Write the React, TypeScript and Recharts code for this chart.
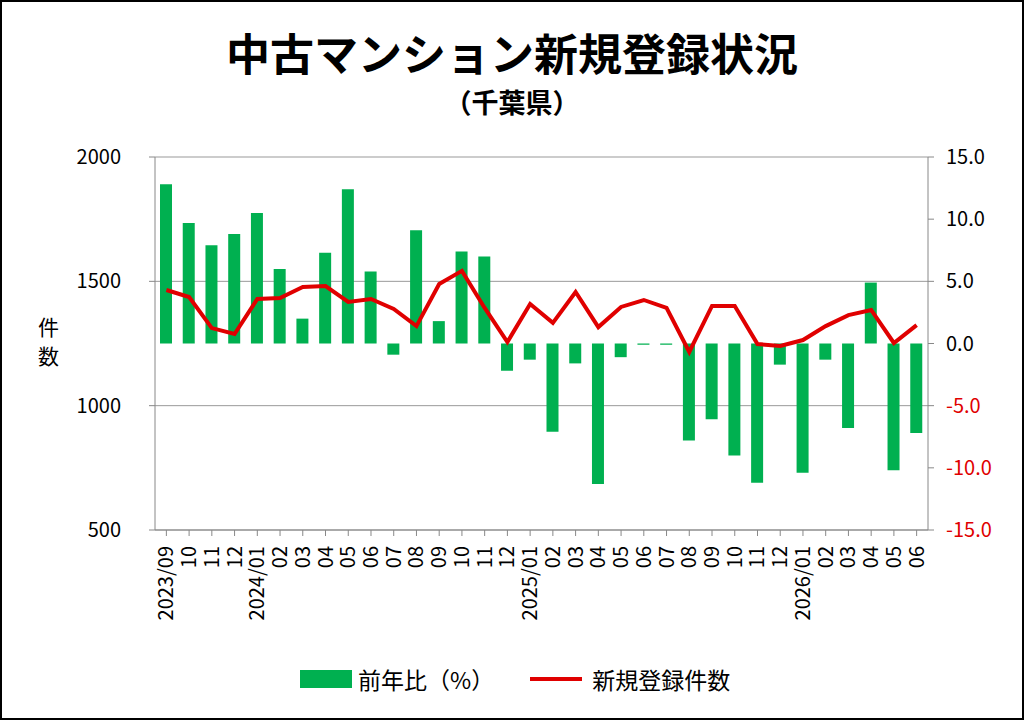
import React from 'react';
import { ComposedChart, Bar, Line, XAxis, YAxis, CartesianGrid } from 'recharts';

const months = ['2023/09','10','11','12','2024/01','02','03','04','05','06','07','08','09','10','11','12','2025/01','02','03','04','05','06','07','08','09','10','11','12','2026/01','02','03','04','05','06'];
const yoy = [12.8,9.7,7.9,8.8,10.5,6.0,2.0,7.3,12.4,5.8,-0.9,9.1,1.8,7.4,7.0,-2.2,-1.3,-7.1,-1.6,-11.3,-1.1,-0.1,-0.1,-7.8,-6.1,-9.0,-11.2,-1.7,-10.4,-1.3,-6.8,4.9,-10.2,-7.2];
const counts = [1465,1437,1312,1288,1429,1433,1477,1481,1417,1429,1389,1320,1489,1542,1393,1256,1409,1333,1457,1316,1397,1425,1393,1216,1401,1401,1248,1240,1264,1320,1364,1385,1252,1324];
const leftTicks = [500,1000,1500,2000];
const rightTicks = [-15,-10,-5,0,5,10,15];

const data = months.map((m, i) => ({ m, yoy: yoy[i], count: counts[i] }));
const FONT = '"Noto Sans CJK JP", "Noto Sans", sans-serif';

const XTick = (p: any) => (
  <text x={p.x} y={p.y} transform={`rotate(-90 ${p.x} ${p.y})`} dx={-8} dy={7}
    textAnchor="end" fontSize={20} fill="#000" fontFamily={FONT}>{p.payload.value}</text>
);
const RTick = (p: any) => (
  <text x={p.x + 10} y={p.y} dy={7} textAnchor="start" fontSize={20}
    fill={p.payload.value < 0 ? '#e00000' : '#000'} fontFamily={FONT}>{p.payload.value.toFixed(1)}</text>
);
const LTick = (p: any) => (
  <text x={p.x - 26} y={p.y} dy={7} textAnchor="end" fontSize={20} fill="#000" fontFamily={FONT}>{p.payload.value}</text>
);

export default function App() {
  return (
    <div style={{ position: 'absolute', left: 0, top: 0, width: 1024, height: 720, background: '#fff', fontFamily: FONT }}>
      <div style={{ position: 'absolute', inset: 0, border: '2px solid #000', boxSizing: 'border-box', pointerEvents: 'none', zIndex: 2 }} />
      <div style={{ position: 'absolute', top: 20, width: 1024, textAlign: 'center', fontSize: 44, fontWeight: 700 }}>中古マンション新規登録状況</div>
      <div style={{ position: 'absolute', top: 82, width: 1024, textAlign: 'center', fontSize: 27, fontWeight: 700 }}>（千葉県）</div>
      <div style={{ position: 'absolute', left: 38, top: 313, fontSize: 21, lineHeight: '26px' }}>件</div>
      <div style={{ position: 'absolute', left: 38, top: 342, fontSize: 21, lineHeight: '26px' }}>数</div>
      <ComposedChart width={1024} height={720} data={data} margin={{ top: 157, right: 0, left: 0, bottom: 0 }}>
        <CartesianGrid vertical={false} stroke="#999" yAxisId="l" />
        <XAxis dataKey="m" height={190} interval={0} tick={<XTick />} stroke="#888" tickSize={6} />
        <YAxis yAxisId="l" width={155} domain={[500, 2000]} ticks={leftTicks} tick={<LTick />} stroke="#888" tickSize={6} />
        <YAxis yAxisId="r" orientation="right" width={96} domain={[-15, 15]} ticks={rightTicks} tick={<RTick />} stroke="#888" tickSize={6} />
        <Bar yAxisId="r" dataKey="yoy" fill="#00b050" barSize={12} isAnimationActive={false} />
        <Line yAxisId="l" dataKey="count" stroke="#e00000" strokeWidth={4} dot={false} isAnimationActive={false} />
      </ComposedChart>
      <div style={{ position: 'absolute', top: 662, left: 300, display: 'flex', alignItems: 'center', fontSize: 23 }}>
        <div style={{ width: 52, height: 18, background: '#00b050', marginRight: 6 }} />
        <span>前年比（%）</span>
        <div style={{ width: 52, height: 4, background: '#e00000', marginLeft: 36, marginRight: 10 }} />
        <span>新規登録件数</span>
      </div>
    </div>
  );
}
